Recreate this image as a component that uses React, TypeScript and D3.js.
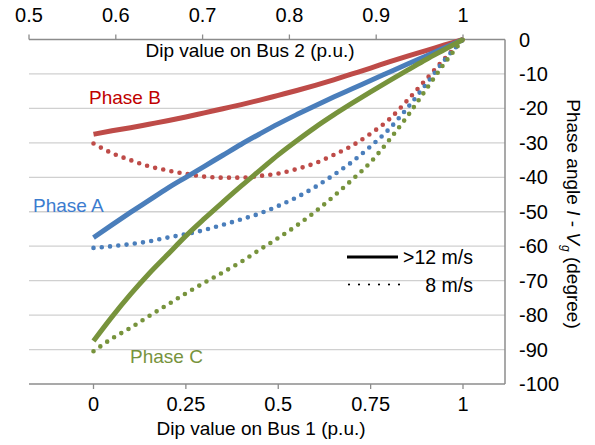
import React from "react";
import * as d3 from "d3";

// Dip value on Bus 1 (p.u.) sample positions
const bus1 = [0, 0.05, 0.1, 0.15, 0.2, 0.25, 0.3, 0.35, 0.4, 0.45, 0.5, 0.55, 0.6, 0.65, 0.7, 0.75, 0.8, 0.85, 0.9, 0.95, 1];

// Phase angle (degree), wind >12 m/s (solid)
const phaseB_fast = [-27.5, -26.5, -25.6, -24.6, -23.6, -22.5, -21.3, -20.1, -18.9, -17.6, -16.2, -14.8, -13.3, -11.7, -10, -8.3, -6.5, -4.8, -3.2, -1.6, 0];
const phaseA_fast = [-57.5, -53.8, -50.2, -46.7, -43.2, -40, -36.8, -33.6, -30.4, -27.4, -24.5, -21.8, -19.2, -16.7, -14.3, -11.9, -9.5, -7.1, -4.8, -2.4, 0];
const phaseC_fast = [-87.5, -80.5, -74, -68, -62.5, -57, -52, -47.2, -42.5, -38, -33.5, -29.4, -25.5, -21.9, -18.5, -15.2, -12, -8.9, -5.8, -2.9, 0];

// Phase angle (degree), wind 8 m/s (dotted)
const phaseB_slow = [-30.2, -33, -35, -36.8, -38, -39, -39.8, -40.1, -40.1, -39.6, -38.9, -37.6, -35.9, -33.5, -30.8, -27.3, -23.2, -17.6, -11.6, -5.6, 0];
const phaseA_slow = [-60.5, -60, -59.4, -58.6, -57.5, -56.5, -55.3, -53.8, -52.2, -50.5, -48.3, -45.8, -42.8, -39.3, -35.5, -31, -26, -19.8, -13, -6, 0];
const phaseC_slow = [-90.5, -86.8, -83.7, -80.3, -77, -73.7, -70.6, -67.6, -64.5, -61, -57.6, -54, -50, -45.5, -40.7, -35.6, -29.2, -22.2, -14.5, -6.9, 0];

const bottomTicks = [0, 0.25, 0.5, 0.75, 1];
const bottomTickLabels = ["0", "0.25", "0.5", "0.75", "1"];
const topTicks = [0.5, 0.6, 0.7, 0.8, 0.9, 1];
const topTickLabels = ["0.5", "0.6", "0.7", "0.8", "0.9", "1"];
const rightTicks = [0, -10, -20, -30, -40, -50, -60, -70, -80, -90, -100];

const colors = { A: "#4A7EBB", B: "#BE4B48", C: "#77933C" };
const labelColors = { A: "#3C7CCF", B: "#C00000", C: "#77933C" };

const FONT = "'Liberation Sans', Arial, sans-serif";

export default function App() {
  const W = 595, H = 445;
  const x = d3.scaleLinear().domain([0, 1]).range([93.5, 463]);
  const xTop = d3.scaleLinear().domain([0.5, 1]).range([29, 463]);
  const y = d3.scaleLinear().domain([0, -100]).range([39.5, 384]);
  const left = 29, right = 505;

  const line = (vals: number[]) =>
    d3.line<number>()
      .x((_, i) => x(bus1[i]))
      .y((v) => y(v))
      .curve(d3.curveMonotoneX)(vals) || "";

  const solid = [
    { v: phaseB_fast, c: colors.B },
    { v: phaseA_fast, c: colors.A },
    { v: phaseC_fast, c: colors.C },
  ];
  const dotted = [
    { v: phaseB_slow, c: colors.B },
    { v: phaseA_slow, c: colors.A },
    { v: phaseC_slow, c: colors.C },
  ];

  return (
    <svg width={W} height={H} style={{ position: "absolute", left: 0, top: 0, background: "#fff" }} fontFamily={FONT}>
      <rect x={0} y={0} width={W} height={H} fill="#fff" />
      {/* gridlines */}
      {rightTicks.filter((t) => t !== 0 && t !== -100).map((t) => (
        <line key={t} x1={left} x2={right} y1={y(t)} y2={y(t)} stroke="#D0D0D0" strokeWidth={1.3} />
      ))}
      {/* top axis */}
      <line x1={left} x2={right} y1={y(0)} y2={y(0)} stroke="#8C8C8C" strokeWidth={1.3} />
      {topTicks.map((t, i) => (
        <g key={t}>
          <line x1={xTop(t)} x2={xTop(t)} y1={y(0)} y2={y(0) - 5} stroke="#8C8C8C" strokeWidth={1.3} />
          <text x={xTop(t)} y={22} textAnchor="middle" fontSize={20} fill="#000">{topTickLabels[i]}</text>
        </g>
      ))}
      {/* bottom axis */}
      <line x1={left} x2={right} y1={y(-100)} y2={y(-100)} stroke="#8C8C8C" strokeWidth={1.3} />
      {bottomTicks.map((t, i) => (
        <g key={t}>
          <line x1={x(t)} x2={x(t)} y1={y(-100)} y2={y(-100) + 5} stroke="#8C8C8C" strokeWidth={1.3} />
          <text x={x(t)} y={411} textAnchor="middle" fontSize={20} fill="#000">{bottomTickLabels[i]}</text>
        </g>
      ))}
      {/* right border */}
      <line x1={right} x2={right} y1={y(0)} y2={y(-100)} stroke="#8C8C8C" strokeWidth={1.5} />
      {rightTicks.map((t) => (
        <text key={t} x={519} y={y(t) + 7} fontSize={20} fill="#000">{t}</text>
      ))}
      {/* axis titles */}
      <text x={250} y={57} textAnchor="middle" fontSize={19} fill="#000">Dip value on Bus 2 (p.u.)</text>
      <text x={261} y={435} textAnchor="middle" fontSize={19} fill="#000">Dip value on Bus 1 (p.u.)</text>
      <text transform={`translate(567,214) rotate(90)`} textAnchor="middle" fontSize={19} fill="#000">
        Phase angle <tspan fontStyle="italic">I</tspan> - <tspan fontStyle="italic">V</tspan>
        <tspan fontStyle="italic" fontSize={12} dy={5}>g</tspan>
        <tspan dy={-5}> (degree)</tspan>
      </text>
      {/* dotted series */}
      {dotted.map((s, i) => (
        <path key={"d" + i} d={line(s.v)} fill="none" stroke={s.c} strokeWidth={4.6}
          strokeLinecap="round" strokeDasharray="0 8.3" />
      ))}
      {/* solid series */}
      {solid.map((s, i) => (
        <path key={"s" + i} d={line(s.v)} fill="none" stroke={s.c} strokeWidth={5} strokeLinecap="butt" />
      ))}
      {/* phase labels */}
      <text x={89} y={104} fontSize={19} fill={labelColors.B}>Phase B</text>
      <text x={33} y={212} fontSize={19} fill={labelColors.A}>Phase A</text>
      <text x={130} y={363} fontSize={19} fill={labelColors.C}>Phase C</text>
      {/* legend */}
      <line x1={347} x2={398} y1={257} y2={257} stroke="#000" strokeWidth={3} />
      <line x1={349} x2={400} y1={284.5} y2={284.5} stroke="#000" strokeWidth={2.2}
        strokeLinecap="round" strokeDasharray="0 10" />
      <text x={473} y={264} textAnchor="end" fontSize={19.5} fill="#000">&gt;12 m/s</text>
      <text x={473} y={291.5} textAnchor="end" fontSize={19.5} fill="#000">8 m/s</text>
    </svg>
  );
}
